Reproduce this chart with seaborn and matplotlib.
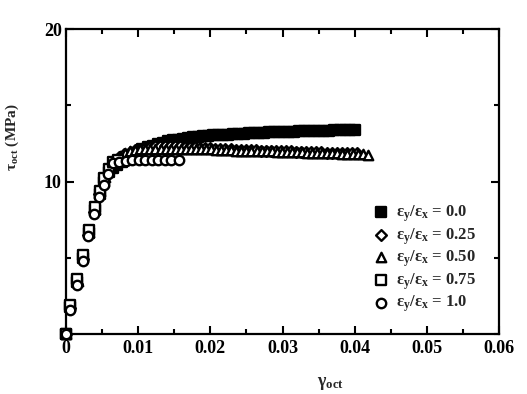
import matplotlib
matplotlib.use("Agg")
import matplotlib.pyplot as plt
import seaborn as sns
import pandas as pd
from matplotlib.ticker import MultipleLocator

# ---- data ----
x_00 = [0, 0.0005, 0.0015, 0.0024, 0.0032, 0.0040, 0.0047, 0.0053, 0.0059, 0.0065,
        0.0071, 0.0078, 0.0085, 0.0092, 0.0099, 0.0106, 0.0113, 0.0120, 0.0127, 0.0134,
        0.0141, 0.0148, 0.0155, 0.0162, 0.0169, 0.0176, 0.0183, 0.0190, 0.0197, 0.0204,
        0.0211, 0.0218, 0.0225, 0.0232, 0.0239, 0.0246, 0.0253, 0.0260, 0.0267, 0.0274,
        0.0281, 0.0288, 0.0295, 0.0302, 0.0309, 0.0316, 0.0323, 0.0330, 0.0337, 0.0344,
        0.0351, 0.0358, 0.0365, 0.0372, 0.0379, 0.0386, 0.0393, 0.0400]
y_00 = [0, 1.8, 3.4, 5.0, 6.6, 8.1, 9.2, 10.0, 10.6, 10.9,
        11.1, 11.3, 11.5, 11.7, 11.9, 12.1, 12.25, 12.35, 12.45, 12.55,
        12.65, 12.7, 12.75, 12.8, 12.85, 12.9, 12.93, 12.96, 12.99, 13.02,
        13.04, 13.06, 13.08, 13.1, 13.12, 13.14, 13.16, 13.18, 13.2, 13.21,
        13.22, 13.23, 13.24, 13.25, 13.26, 13.27, 13.28, 13.29, 13.3, 13.31,
        13.32, 13.33, 13.34, 13.35, 13.36, 13.37, 13.38, 13.4]

x_025 = [0, 0.0005, 0.0015, 0.0023, 0.0031, 0.0039, 0.0046, 0.0053, 0.0060, 0.0067,
         0.0074, 0.0081, 0.0088, 0.0095, 0.0102, 0.0109, 0.0116, 0.0123, 0.0130, 0.0137,
         0.0144, 0.0151, 0.0158, 0.0165, 0.0172, 0.0179, 0.0186, 0.0193, 0.0200, 0.0207,
         0.0214, 0.0221, 0.0228, 0.0235, 0.0242, 0.0249, 0.0256, 0.0263, 0.0270, 0.0277,
         0.0284, 0.0291, 0.0298, 0.0305, 0.0312, 0.0319, 0.0326, 0.0333, 0.0340, 0.0347,
         0.0354, 0.0361, 0.0368, 0.0375, 0.0382, 0.0389, 0.0396, 0.0403]
y_025 = [0, 1.7, 3.3, 4.9, 6.5, 8.0, 9.2, 10.2, 10.9, 11.3,
         11.6, 11.8, 11.95, 12.05, 12.15, 12.2, 12.25, 12.3, 12.3, 12.35,
         12.35, 12.35, 12.3, 12.28, 12.26, 12.24, 12.22, 12.2, 12.18, 12.16,
         12.14, 12.12, 12.1, 12.08, 12.07, 12.06, 12.05, 12.04, 12.03, 12.02,
         12.01, 12.0, 11.99, 11.98, 11.97, 11.96, 11.95, 11.94, 11.93, 11.92,
         11.91, 11.9, 11.89, 11.88, 11.87, 11.86, 11.85, 11.84]

x_050 = [0, 0.0006, 0.0016, 0.0024, 0.0032, 0.0040, 0.0047, 0.0054, 0.0061, 0.0068,
         0.0075, 0.0082, 0.0089, 0.0096, 0.0103, 0.0110, 0.0117, 0.0124, 0.0131, 0.0138,
         0.0145, 0.0152, 0.0159, 0.0166, 0.0173, 0.0180, 0.0187, 0.0194, 0.0201, 0.0208,
         0.0215, 0.0222, 0.0229, 0.0236, 0.0243, 0.0250, 0.0257, 0.0264, 0.0271, 0.0278,
         0.0285, 0.0292, 0.0299, 0.0306, 0.0313, 0.0320, 0.0327, 0.0334, 0.0341, 0.0348,
         0.0355, 0.0362, 0.0369, 0.0376, 0.0383, 0.0390, 0.0397, 0.0404, 0.0411, 0.0418]
y_050 = [0, 1.9, 3.5, 5.1, 6.7, 8.2, 9.4, 10.3, 11.0, 11.4,
         11.7, 11.9, 12.0, 12.05, 12.1, 12.1, 12.1, 12.1, 12.1, 12.1,
         12.1, 12.1, 12.1, 12.1, 12.1, 12.1, 12.1, 12.1, 12.1, 12.08,
         12.06, 12.05, 12.04, 12.03, 12.02, 12.01, 12.0, 12.0, 11.99, 11.98,
         11.97, 11.96, 11.95, 11.94, 11.93, 11.92, 11.91, 11.9, 11.89, 11.88,
         11.87, 11.86, 11.85, 11.84, 11.83, 11.82, 11.81, 11.8, 11.78, 11.75]

x_075 = [0, 0.0006, 0.0015, 0.0024, 0.0032, 0.0040, 0.0047, 0.0053, 0.0059, 0.0065, 0.0072]
y_075 = [0, 1.9, 3.6, 5.2, 6.8, 8.3, 9.4, 10.2, 10.8, 11.3, 11.4]

x_100 = [0, 0.0005, 0.0015, 0.0023, 0.0031, 0.0039, 0.0046, 0.0052, 0.0058, 0.0065,
         0.0074, 0.0083, 0.0092, 0.0101, 0.0110, 0.0119, 0.0128, 0.0137, 0.0146, 0.0157]
y_100 = [0, 1.6, 3.2, 4.8, 6.4, 7.9, 9.0, 9.8, 10.5, 11.2,
         11.3, 11.35, 11.4, 11.4, 11.4, 11.4, 11.4, 11.4, 11.4, 11.4]

labels = [r"$\mathrm{ε_y/ε_x}$ = 0.0", r"$\mathrm{ε_y/ε_x}$ = 0.25",
          r"$\mathrm{ε_y/ε_x}$ = 0.50", r"$\mathrm{ε_y/ε_x}$ = 0.75",
          r"$\mathrm{ε_y/ε_x}$ = 1.0"]
x_ticks = [0, 0.01, 0.02, 0.03, 0.04, 0.05, 0.06]
x_ticklabels = ["0", "0.01", "0.02", "0.03", "0.04", "0.05", "0.06"]
y_ticks = [10, 20]
y_ticklabels = ["10", "20"]

# ---- style ----
sns.set_theme(style="ticks")
plt.rcParams["font.family"] = ["Liberation Serif", "DejaVu Serif"]
plt.rcParams["font.weight"] = "bold"
plt.rcParams["mathtext.fontset"] = "custom"
plt.rcParams["mathtext.rm"] = "Liberation Serif:bold"
plt.rcParams["mathtext.it"] = "Liberation Serif:italic:bold"
plt.rcParams["mathtext.bf"] = "Liberation Serif:bold"

fig = plt.figure(figsize=(5.27, 3.94), dpi=100)
ax = fig.add_axes([66 / 527, 1 - 334 / 394, 433 / 527, 305 / 394])

series = [
    (x_00, y_00, "s", "black"),
    (x_025, y_025, "D", "white"),
    (x_050, y_050, "^", "white"),
    (x_075, y_075, "s", "white"),
    (x_100, y_100, "o", "white"),
]
sizes = [44, 30, 46, 42, 46]
for (xs, ys, m, fc), lab, s in zip(series, labels, sizes):
    df = pd.DataFrame({"x": xs, "y": ys})
    sns.scatterplot(data=df, x="x", y="y", marker=m, s=s, facecolor=fc,
                    edgecolor="black", linewidth=1.7, label=lab, ax=ax, zorder=3,
                    clip_on=False)

ax.set_xlim(0, 0.06)
ax.set_ylim(0, 20)
ax.set_xticks(x_ticks)
ax.set_xticklabels(x_ticklabels)
ax.set_yticks(y_ticks)
ax.set_yticklabels(y_ticklabels)
ax.xaxis.set_minor_locator(MultipleLocator(0.005))
ax.yaxis.set_minor_locator(MultipleLocator(5))
ax.tick_params(which="both", direction="in", top=True, right=True, width=1.5,
               labelsize=13, colors="black")
ax.tick_params(which="major", length=6)
ax.tick_params(which="minor", length=3.5)
ax.tick_params(axis="x", pad=4)
ax.tick_params(axis="y", pad=3)
for t in ax.get_xticklabels() + ax.get_yticklabels():
    t.set_fontweight("bold")
for sp in ax.spines.values():
    sp.set_linewidth(1.6)
    sp.set_color("black")

ax.set_xlabel(r"$\mathrm{γ_{oct}}$", fontsize=13, fontweight="bold")
ax.set_ylabel(r"$\mathrm{τ_{oct}}$ (MPa)", fontsize=11, fontweight="bold")
ax.xaxis.set_label_coords(0.61, -0.135)
ax.yaxis.set_label_coords(-0.105, 0.645)

leg = ax.legend(loc="upper left", bbox_to_anchor=(363 / 527, 1 - 195 / 394),
                bbox_transform=fig.transFigure, frameon=False, fontsize=12,
                handletextpad=0.25, labelspacing=0.12, borderpad=0,
                handlelength=1.2, markerscale=1.0)

fig.savefig("out.png", dpi=100)
